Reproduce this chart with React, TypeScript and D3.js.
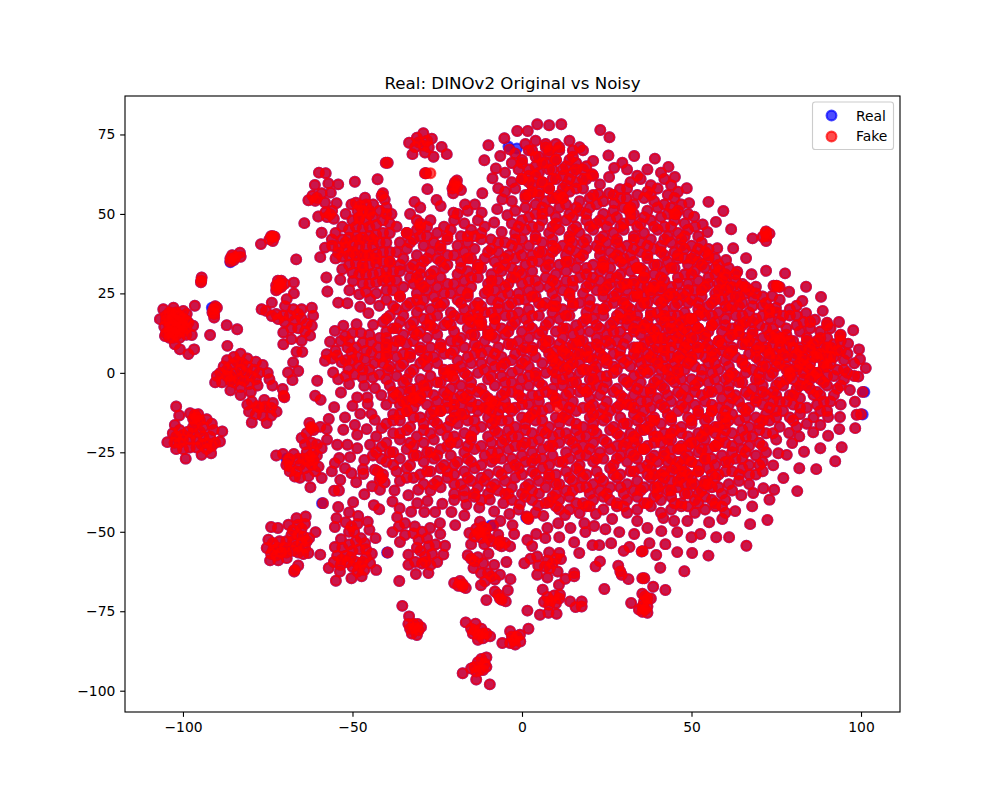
import React, { useRef, useEffect } from 'react';
import * as d3 from 'd3';

const title = 'Real: DINOv2 Original vs Noisy';
const xTicks = [-100, -50, 0, 50, 100];
const yTicks = [-100, -75, -50, -25, 0, 25, 50, 75];

// values, x,y pairs
const leftIslands = [
  -105.8,20,-102.8,20.5,-99.9,19.5,-96.5,21.1,-106.8,16.9,-105.3,11.6,-97,14.8,-97.4,11.9,-102.4,9,-100.9,7.4,-98.4,5.9,-96.7,7.4,-98.9,18.5,-98.4,15.8,
  -105,18,-104,19,-103,18.5,-102,19,-101,18,-105,16.5,-104,16,-103,17,-102,16.5,-101,16,-100,17,-105.5,14.5,-104,14.5,-103,15,-102,14,-101,14.5,-100,15,-105,12.5,-104,13,-103,12.5,-102,12,-101,13,-100,13,-103,11,-101,11,-99,12,-99,14,-99,16.5,-104,11,
  -94.5,30,-94.6,29,-94.7,28.5,-90.5,21,-90,20.5,-91,20,-91.3,19,-90.8,18.5,-90.8,17.4,-87.1,15,-84,13.7,-92,11.9,-86.9,8.5,
  -86,36,-85.5,37,-85,35.5,-86,35,-84.5,36.5,-83.2,37.8,-83,36.5,-74,43,-73.5,43,-73.5,41.5,-74.5,42,-73,42.8,-77,40.5,-66.6,35.7,-59.5,36.4,-64.2,47.1,
  -72,29,-72.5,27.5,-71.5,28,-71,27,-72,26.5,-71,29,-70,28,-72.5,26,-67.3,28.4,-67.3,25,
  -76.8,20,-75.5,19.5,-73.8,22.1,-69.9,21,-69.4,23.2,-67.4,20,-65,20,-62,20.5,-61.6,18,-62,14.8,-62.5,11.7,-65,10.1,-68,10.6,-70.4,9,-70.4,12.7,-66.5,6.6,-64.8,6.6,-67.5,3.3,-69,0.1,-66,0.6,-67.7,-2.3,
  -73.8,17.9,-71.9,16.9,-70,16,-68.5,18,-67,16.5,-65,17,-66,14,-68,14,-63.5,15.5,-64,13,-72.5,18.5,-70.5,18,-66,18.5,
  -88,2,-87,4,-85,5,-83,6,-81,4.5,-78.5,3.5,-76.5,2.5,-75,0,-74.5,-2,-78,-4,-80,-6,-83,-7,-86,-5.5,-88.5,-3,-90,-1,-90.5,-3,-89,0,
  -87,1,-85.5,2.5,-84,3.5,-82.5,3,-81,2,-79,1,-77.5,0,-86,-1,-84.5,0,-83,1,-81.5,0,-80,-1,-78.5,-2,-85,-3,-83.5,-2,-82,-2.5,-80.5,-3.5,-83,-4.5,-86,-2.5,-87,-1,
  -73.6,-4,-70.6,-5.1,-70.1,-7.7,-70.3,-7.2,
  -102,-10.6,-101.1,-13.4,-97.9,-12.7,-93,-14.6,-88.4,-18.4,-89.1,-21.6,-104.6,-21.8,-102.4,-16.4,-99.2,-27,-94.5,-25.8,-91.7,-25.3,
  -96.5,-13.2,-96,-14,-97,-14.5,-95.5,-13,-96.5,-15.5,-95,-15,
  -103,-19,-102,-20,-101,-18,-100,-19.5,-102.5,-22,-101,-22,-100,-21,-98.5,-18.5,-98,-21,-97,-19,-96,-21,-95,-18.5,-94,-20,-93,-22,-92,-20,-91,-18,-94.5,-22.5,-93,-24,-91.5,-23,-96,-23.5,-98,-23.5,-100,-24,-102,-24,-90.5,-22,-97,-17,-94,-17,-91.5,-16,
  -79.7,-15.6,-75.3,-15.8,-80.5,-12.2,-72.4,-12.2,-79.7,-9,-75.8,-10.6,-77.5,-11,-74,-11,-78.5,-13,-76.5,-13.5,-74,-13.5,-76,-8.5,-73.5,-9.5,-78,-10.5,-81,-10,
  -62.7,-15.8,-62,-17.4,-62.2,-17,-61.5,-18,-59.5,-17,-57.6,-17.7,-57,-14.5,-63.5,-19,-69,-27.9,-68.7,-27,-69.5,-29,-68.5,-29.5,-67.3,-25.5,
  -62.5,-26.3,-63.5,-25,-61.5,-25,-63,-28,-61.5,-27.5,-60.5,-26,-64.5,-27,-62,-29,-64,-30,-65.5,-29,-66,-27,-64,-22.5,-62,-22,-60.5,-22.5,-59.1,-23.7,-59.1,-33.1,-62.4,-36,-67,-32.6,-65.5,-33,-63,-32.5,-61,-31,-66.5,-31,-60,-29.5,
  -72.5,-26,-70.5,-25.5,-68.5,-31,-65,-20.5,
  -56.1,-31,-55.4,-37.1,-54,-37,-58.7,-41,-54.2,-42.2,-49.8,-40.7,-43.7,-41.6,-42.1,-42.9,-46.5,-38.2,-48.9,-34.4,-53.6,-33.7,-52.2,-30,-55.2,-28.4,-50.3,-31.6,-46.8,-31.8,-46.9,-30.3,-46.5,-27.4,-53.9,-26.8,-50.7,-26.5,-54.5,-22.6,-51.5,-22.6,-48.6,-23.7,-44.8,-22.6,-52.7,-17.9,-49.3,-16.4,-45.8,-17.7,-48.6,-19.5,-52.2,-14,-55.4,-10.8,-50,-10.4,-47.7,-12.9,-45.5,-9.8,-44.4,-12.9,-43.4,-14.8,-41.4,-17.4,-41.4,-23.2,-43.4,-30.5,-57.5,-21,-44.2,-35.7,-41.9,-36.8,-41.4,-33.1,-42,-33.5,-41,-32,-42.5,-31,-40.5,-34.5,-43,-20,-44,-26,-41.5,-27,-43,-25,
];

const lowerIslands = [
  -74,-48.5,-72,-48.8,-68.9,-47.8,-66.5,-45.7,-63.8,-45.2,-60.9,-50.1,-62.8,-52,-74.8,-52.5,-75.3,-55.1,-74.3,-59,-71.9,-59,-69.4,-58.3,-63,-56.7,-59.5,-57.2,-66,-60.6,-67.2,-62.5,-67,-62,
  -73.4,-55.7,-72,-55,-71,-56.5,-74,-57,-72.5,-57.5,-70,-55,-69.5,-56.5,-71.5,-53,-73.5,-53.5,-69.5,-53,
  -66,-47.8,-65,-49,-67.5,-49.5,-64,-47.5,-66,-51,-64.5,-51.5,-68,-51,
  -66.5,-54.6,-65,-53.5,-64,-55,-67.5,-53,-66,-56.5,-64.5,-57,-67.5,-56,-63.5,-53,
  -51,-43.9,-48.3,-45,-54.7,-45.7,-55.2,-48.5,-45.5,-46.8,-45,-49.4,-43.2,-52,-53.4,-52.3,-55.2,-54.8,-44.3,-56.9,-44.8,-59.9,-43,-62,-57,-61.4,-54.9,-65.4,-50.3,-64.6,-47.3,-64,-53.7,-62.5,
  -53.2,-58.8,-54.5,-57.5,-52,-57.5,-55.5,-59.5,-53.5,-60.5,-51.5,-59.5,-50.5,-58,-49,-59.5,-47.8,-60.9,-47,-59.5,-46.5,-62,-48.5,-62.5,-50,-61,-46,-58,
  -50.3,-48.3,-52,-47,-48.5,-47.5,-49.5,-50,-51,-50,-47.5,-52,-49,-53,-46.3,-53.6,-51,-54,-53,-55,-48,-55.5,-46,-55.5,-50,-56,
  -35.3,-73.3,-33.3,-76.6,-31.6,-80.3,-32,-79,-30.8,-79,-33,-80.5,-30.5,-81,-32.5,-82,-31,-82.5,-33.5,-79,-29.8,-80,
  -16.6,-78.5,-13.7,-78.9,-12.9,-82.4,-14,-81,-12,-80.5,-14.5,-82,-13,-84,-11.5,-83.5,-10.5,-82,-9.4,-82.9,-15,-80.5,-11.5,-82,
  1.9,-80.5,-3.5,-81.3,-0.6,-82.4,-5.8,-85,-2.3,-84.2,-3,-83,-1.5,-83,-3.5,-85,-2,-85.5,-0.5,-84.5,
  -17.5,-94.5,-13.5,-96.5,-9.5,-98,-14,-92.5,-12.5,-93.5,-11,-91.5,-13,-91,-12,-90,-11.5,-93.5,-10.5,-89.5,-13.5,-94,-10.5,-92.5,-15,-93,
  -20,-66.1,-18.3,-65.5,-17.5,-66.5,-18.8,-67,-16.6,-67.7,-17.5,-67.2,
  -24.2,-47.3,-36.3,-48.3,-38.2,-50.1,-34.5,-47.3,-31.6,-48.3,-27.1,-48.8,-24.1,-50.7,-34.5,-51,-36,-53.2,-22.7,-54.4,-23.2,-57.2,-33.5,-57.2,-33.5,-60.4,-31.3,-63.3,-27.6,-63,-25,-59.5,-36.2,-65.5,-39.6,-56.5,
  -28.6,-57.8,-30.5,-52.5,-27.5,-54.5,-31.5,-59.5,-29.5,-60,-27,-60.5,-30,-56,-26.5,-57,-28,-52,-32,-50.5,-29.5,-50,-25.5,-54,-31,-55,-28.5,-59.5,
  -12.9,-50.4,-10.9,-50.4,-12.4,-46.8,-15.5,-50.4,-15,-53.9,-11.1,-53.9,-7,-50.9,-6,-54.6,-7,-54,-5,-53.5,-6.5,-53,-3.5,-54.6,-9.9,-56.9,-16,-57.4,-14,-59.3,-15,-58.5,-13,-58,-14.3,-61.4,-11.4,-59.9,-8.2,-60.4,-4.6,-59.5,-12.1,-63,-9,-64,-10,-63,-8,-65,-6.5,-63.5,-3.4,-64.9,-10.9,-65.6,-12.1,-66.8,-4.2,-68.4,-7,-69.8,-6.5,-71,-8,-68.8,-6,-71.4,-4.8,-71.9,-10.5,-71.5,
  -13.5,-49,-11.5,-48.5,-14,-51.5,-12,-52,-10,-52,-12.5,-50,-10.5,-49,-9,-53,-8.5,-48,
  0.7,-59.9,4.5,-57.8,8,-56.5,11,-56.7,11.5,-58.6,4.5,-63.5,7.5,-64.4,10.5,-62.5,9,-60,7.5,-59,10,-58.5,4.8,-60.6,8.2,-61.5,6.8,-61,2.5,-58.5,
  1.6,-74.8,5.3,-76.1,10.2,-75.8,7.8,-75.5,8.5,-71.7,7.5,-70.5,9.5,-70,6.5,-72,8,-73,10,-72.5,11,-71,6.1,-68.2,11.2,-69.8,14.2,-71.9,17.6,-71.9,17.6,-73.5,15.8,-73.7,10.9,-66.7,12.8,-64.8,15.4,-63,15.4,-64,
  21.7,-60.9,23,-59.3,28.4,-60.7,29.4,-63.5,31.4,-64.9,29,-62.5,35.5,-64.6,24.3,-68,32.2,-72.4,36.3,-70.3,35.5,-69.5,37,-71,36,-72,36.3,-74.5,35.5,-73.5,37,-73.5,35.5,-75.2,37,-75.5,38.7,-67.3,42.3,-68.3,38,-71,34.5,-74.5,
  40.8,-61.3,47.9,-62.4,36.1,-64.6,
];

const rimPoints = [
  4.5,78.2,8,77.9,11.6,78.2,-1.4,76.1,1.7,76.1,-5.2,73.8,-9.9,71.6,-3.7,70.3,-6.4,68.2,-11.1,66.9,-7.7,64.3,-8.7,61.2,-7,58.1,-11.7,56.5,-5.8,54.6,-7.3,51.5,-8.2,47.3,-4.3,49.6,-6,44.3,-9.2,42,23.1,76.4,25.8,74.1,25.5,68.4,21,66.7,20.7,62.5,33.1,68.2,29.6,66.1,27.2,64.5,25.7,61.6,23,59.3,28.9,57.8,30.9,54.9,25.7,56.5,22.5,56.2,27.2,53.4,31.4,51.3,
  -31.7,53.8,-30,52,-25.2,54.4,-24,52.5,-27.9,57.8,-19.8,59.9,-20,59,-19.2,60.5,-20.5,58,-19,58.5,-18,57.5,-20.3,56.5,-28.6,62.8,-28.3,62.8,-16.8,53,-13.9,53,-20.2,50.4,-11.9,50.4,-31,48,-33,50,
  -29.1,75.4,-31,74,-33.3,72.4,-26.6,73.7,-23.7,71.1,-22.2,68.8,-26.1,68,-28.6,69.3,-32.3,68.8,-30.5,72.5,-29,71.5,-28,73,-27.5,71,-31.5,71,-39.6,66.1,
  -42.6,60.9,-40.2,66.1,
  39.2,67.4,43.2,64.8,45.1,61.6,48.6,58.1,49.3,53.4,55,53.8,59.4,50.9,45.4,49.9,50.8,49.1,57.2,47.5,53.3,46.7,61.7,45.2,54.7,44.3,68,42.3,72.2,43,72,44.5,73,43.8,72,41.5,71,42.8,57.6,39.2,62.3,39.2,66.1,36.1,60.2,35.5,72,32.1,77.6,31.3,63.5,31.8,67.7,31,58.2,32.1,75.1,27.4,74.2,27.4,76,27,83.8,27.1,69,27.1,64.6,27.2,78.8,25.5,88.2,23.9,73.8,24.2,68.2,23.4,82.7,22.6,81,21.1,88.7,19.5,74.9,20.5,70.9,21.1,83.8,18.8,93.5,16,97.7,13.4,90,15.8,86.4,16.7,93.8,11.6,96.2,9.2,99.4,7.4,99.7,4.3,101.4,1.5,99.2,-1.2,96.7,-5.4,100.5,-6,98.2,-9.1,
  98.7,-13.2,100,-13,93.8,-13.9,90.3,-13.9,93.6,-17.7,98.3,-17.4,90.3,-19.8,85.9,-18.7,88,-16.4,81.8,-20,78.8,-18.9,94.3,-23.4,88,-23.7,83.2,-24.8,92.4,-27.8,86.8,-30.3,81.8,-30,79.7,-22.1,78.1,-25.8,75.6,-25.3,74.1,-29.1,77.1,-33.1,81.2,-37.2,74.4,-36.8,73,-39.9,71.2,-36.3,68.2,-37.8,67.9,-42,64.7,-38.5,62.9,-43.5,72.4,-46.3,67.3,-47.6,59.1,-46,61.1,-51.7,57.3,-51.7,66.2,-54.4,55,-57.5,52.6,-50.7,50,-51.7,50.2,-56.7,45.8,-56.4,39.6,-57.3,35.6,-56.1,42.3,-53.9,37.6,-53.6,45.8,-50.1,41.1,-49.8,37,-48.8,55.2,-47,48.8,-46.6,44.9,-46.6,41.7,-45.7,
  -33.5,-38.5,-37.6,-37,-30.6,-36.8,-38.2,-40.5,-30.9,-41,-27.9,-40.3,-23.5,-41.2,-36.1,-42.6,-32.7,-43.7,-28.8,-43.8,-25.6,-43.8,-20.8,-43.8,-17,-44.9,-16.4,-41.5,-12.6,-42.4,-9.5,-39.9,-5.5,-41,-8.2,-43.6,-0.6,-41.3,4.8,-41.7,8,-40.7,-3.7,-44.4,-6.4,-46.6,1.6,-45.7,1.4,-45.2,1.9,-46,6.3,-45,11,-43,12.7,-44.7,17,-44.1,21.8,-44.4,26.6,-46,34,-46.6,-36.8,-45.4,-19.7,-47.9,-2.8,-47.9,10.7,-47.3,14.3,-48.8,18.4,-47.3,21.3,-48.2,24.6,-49.2,28.7,-50.1,33.1,-50.7,7.5,-48.8,-2.3,-50.7,4.2,-50.7,11,-51.7,6.9,-52,1.6,-52.6,18.7,-50.1,15.4,-53.3,3,-54.5,20.8,-54.2,22.8,-54.2,26.3,-53.6,31.7,-54.8,30,-56,16.9,-56.7,35.3,-56.2,
  -59.9,63,-57.9,62.8,-61.1,59.1,-57.1,59.6,-54.2,59.3,-56.4,56.7,-59.1,56.5,-49.3,60.1,-61.8,55.7,-63,54.3,-61,54.1,-60.5,55,-58.1,53.6,-54.7,53.4,-60.1,49.2,-56.6,49.9,-57.5,49,-55.5,48.5,-56,51,-58,50.5,-59.1,44.1,-58.1,39.4,-56.1,42,-54.2,37.8,-53,32.6,-57.7,30,-53.6,29.3,-49.8,28.9,-57.4,25.6,-50.9,26,-48,24.7,-44.8,23.2,-54.2,22.1,-51.5,21.9,-47.7,20.8,-42.1,21.1,-45.3,18.8,
  -52.7,14.8,-48.8,15.3,-43.9,15.1,-55.2,13.2,-56.6,9.8,-57.6,5.9,-58.1,3.8,-55.7,0.1,-54.2,-2,-51,-3.5,-46.5,-4.1,-43.4,-4.8,-53.4,-6.2,-48.6,-7.7,-45.6,-7.7,-41.5,-7,-60.4,-2.5,-61,-7.2,-59.4,-8.5,
];

const upperLeftCluster = [
  -50.3,53,-46.3,55.1,-43.9,53,-41.4,55.7,-41,56.5,-40.5,54.5,-47.8,52.5,-48.5,51,-47,51,-46,53,-49,53.5,-45,51,-52,50,-50,48,-48,48.5,-46,48,-44,49,-42,51,-40,52,-38.5,50,
  -53,46,-51,45,-49,46,-47,45.5,-45,46,-43,46.5,-41,48,-39,47,-37,46,-55,44,-53,42,-51,42.5,-49,43,-47,42.5,-45,43,-43,43.5,-41,44,-39,44,
  -56,40,-54,39.5,-52,39.5,-50,40,-48,40,-46,39.5,-44,40,-42,41,-40,41,-55,36,-53,36.5,-51,37,-49,37,-47,37,-45,37,-43,37.5,-41,38,-39,38,
  -51,34,-49,34.5,-47,34,-45,34,-43,34.5,-41,35,-39,35,-50,31.5,-48,31,-46,31,-44,31,-42,31.5,-40,32,-47,28,-45,28,-43,28.5,-41,29,-39,29,-46,25.5,-43,25,-40,26,
];

const lowerLeftCluster = [
  -52.2,11.6,-53.5,10,-51,10,-50,12.5,-50.3,6.4,-49,8,-51.5,8,-46.3,4.3,-53.2,3.3,-54.5,5.5,-48.3,2.2,-47,1,-44.4,6.4,-55,7,-56,4.5,-51.2,1.2,-52,4,-50,4,-48.5,5,-46,7,-47,9.5,-44.5,9.5,-42.5,8,-45,12,-42,11,-40,9,-42,5,-40,6,-43.5,3,-45,1,-41,3,-39.5,1,-42,-0.5,-44,-1.5,-47,-1.5,-49.5,-0.5,-52,-1,-40,13,-41,16,-39,18,-47.5,12.5,
];

// the big central mass, top to bottom
const centralUpper = [
  1,72,4,73,7,71,10,72,14,73,17,71,
  -2,69,2,70,5,68,8,69,11,70,15,68,18,70,
  -3,66,0,67,4,65,7,66,10,67,13,65,16,66,19,65,
  -5,63,-1,64,2,62,5,63,9,64,12,62,15,63,18,64,21,62,31,64,34,62,37,64,41,63,
  -3,60,0,61,3,59,6,60,9,61,13,59,16,60,19,61,32,60,35,61,38,59,42,61,44,59,
  -5,57,-2,58,1,56,5,57,8,58,11,56,14,57,18,58,21,56,31,58,34,56,37,57,40,58,43,56,46,57,
  -3,54,1,55,4,53,7,54,10,55,13,53,17,54,20,55,24,54,29,55,33,53,36,55,39,54,42,53,45,55,47,53,
  -19,50,-16,51,-2,51,1,52,4,50,8,51,11,52,14,50,17,51,20,52,24,50,27,51,30,52,33,50,37,51,40,52,43,50,46,51,
  -30,47,-27,48,-23,46,-20,48,-17,47,-13,48,-11,46,-3,47,0,48,3,46,6,48,10,47,13,48,16,46,19,48,22,47,26,48,29,46,32,48,35,47,38,48,42,46,45,48,48,47,51,46,
  -34,44,-31,45,-28,43,-25,44,-21,45,-18,43,-15,45,-12,44,-2,44,1,45,4,43,8,44,11,45,14,43,17,44,21,45,24,43,27,44,30,45,33,43,36,44,40,45,43,43,46,44,49,45,52,43,
  -36,41,-32,42,-29,40,-26,41,-22,42,-19,40,-16,41,-12,42,-9,39,-5,41,-3,40,0,42,2,40,6,41,9,42,12,40,15,41,19,42,22,40,25,41,28,42,31,40,35,41,38,42,41,40,44,41,47,42,50,40,53,41,55,39,
  -37,38,-34,39,-31,37,-27,38,-24,39,-20,37,-17,38,-14,39,-11,36,-7,38,-4,37,-1,39,3,37,6,38,10,39,13,37,16,38,19,39,23,37,26,38,29,39,32,37,35,38,39,39,42,37,45,38,48,39,51,37,54,38,57,36,
  -39,35,-35,36,-32,34,-29,35,-25,36,-22,34,-18,35,-15,36,-12,33,-8,35,-5,34,-2,36,1,34,5,35,8,36,11,34,14,35,17,36,21,34,24,35,27,36,30,34,33,35,37,36,40,34,43,35,46,36,49,34,52,35,55,36,58,34,61,33,
  -36,32,-33,33,-30,31,-26,32,-23,33,-19,31,-16,32,-13,33,-9,31,-6,32,-3,33,0,31,3,32,7,33,10,31,13,32,16,33,19,31,23,32,26,33,29,31,32,32,35,33,39,31,42,32,45,33,48,31,51,32,54,33,57,31,60,30,63,29,
  -40,30,-37,29,-33,30,-30,28,-27,29,-24,30,-20,28,-17,29,-13,30,-10,28,-7,29,-3,30,0,28,4,29,7,30,10,28,13,29,17,30,20,28,23,29,26,30,30,28,33,29,36,30,39,28,42,29,46,30,49,28,52,29,55,30,58,28,61,27,65,28,67,26,
  -38,26,-35,27,-31,25,-28,26,-25,27,-21,25,-18,26,-15,27,-11,25,-8,26,-5,27,-1,25,2,26,5,27,9,25,12,26,15,27,18,25,22,26,25,27,28,25,31,26,35,27,38,25,41,26,44,27,47,25,51,26,54,27,57,25,60,26,63,24,66,25,71,24,
  -40,23,-36,24,-33,22,-29,23,-26,24,-23,22,-19,23,-16,24,-13,22,-9,23,-6,24,-3,22,1,23,4,24,7,22,10,23,14,24,17,22,20,23,24,24,27,22,30,23,33,24,37,22,40,23,43,24,46,22,50,23,53,24,56,22,59,23,62,21,65,22,72,22,76,23,
];

const centralMiddle = [
  -37,20,-34,21,-31,19,-27,20,-24,21,-21,19,-17,20,-14,21,-11,19,-7,20,-4,21,-1,19,2,20,6,21,9,19,12,20,15,21,19,19,22,20,25,21,29,19,32,20,35,21,38,19,42,20,45,21,48,19,52,20,55,21,58,19,61,20,64,21,67,19,71,18,75,19,79,20,81,18,
  -40,17,-35,18,-32,16,-29,17,-25,18,-22,16,-18,17,-15,18,-12,16,-8,17,-5,18,-2,16,1,17,5,18,8,16,11,17,14,18,18,16,21,17,24,18,27,16,31,17,34,18,37,16,41,17,44,18,47,16,50,17,54,18,57,16,60,17,63,18,66,16,70,15,73,17,76,16,79,18,83,16,
  -37,14,-33,15,-30,13,-26,14,-23,15,-20,13,-16,14,-13,15,-10,13,-6,14,-3,15,0,13,3,14,7,15,10,13,13,14,16,15,20,13,23,14,26,15,29,13,33,14,36,15,39,13,43,14,46,15,49,13,52,14,56,15,59,13,62,14,65,15,68,13,72,14,75,12,78,14,82,13,85,14,88,13,91,14,94,12,
  -40,11,-35,12,-32,10,-28,11,-25,12,-21,10,-18,11,-15,12,-11,10,-8,11,-5,12,-1,10,2,11,5,12,8,10,12,11,15,12,18,10,22,11,25,12,28,10,31,11,35,12,38,10,41,11,45,12,48,10,51,11,54,12,58,10,61,11,64,12,67,10,71,11,74,9,77,11,80,10,84,11,87,10,90,11,92,9,
  -38,8,-34,9,-30,7,-27,8,-24,9,-20,7,-17,8,-14,9,-10,7,-7,8,-4,9,0,7,3,8,6,9,10,7,13,8,16,9,19,7,23,8,26,9,29,7,33,8,36,9,39,7,42,8,46,9,49,7,52,8,55,9,59,7,62,8,65,9,69,7,72,8,75,6,78,8,82,7,85,8,88,6,91,8,94,7,96,6,
  -37,5,-33,6,-29,4,-26,5,-23,6,-19,4,-16,5,-12,6,-9,4,-6,5,-2,6,1,4,4,5,8,6,11,4,14,5,17,6,21,4,24,5,27,6,31,4,34,5,37,6,40,4,44,5,47,6,50,4,54,5,57,6,60,4,63,5,67,6,70,4,73,5,76,3,80,5,83,4,86,5,89,3,92,5,95,4,98,3,
  -39,2,-35,3,-32,1,-28,2,-25,3,-21,1,-18,2,-15,3,-11,1,-8,2,-5,3,-1,1,2,2,6,3,9,1,12,2,15,3,19,1,22,2,25,3,28,1,32,2,35,3,38,1,42,2,45,3,48,1,51,2,55,3,58,1,61,2,65,3,68,1,71,2,74,0,78,2,81,1,84,2,87,0,90,2,93,1,96,0,98,-1,
  -37,-1,-33,0,-30,-2,-27,-1,-23,0,-20,-2,-16,-1,-13,0,-10,-2,-6,-1,-3,0,0,-2,4,-1,7,0,10,-2,14,-1,17,0,20,-2,23,-1,27,0,30,-2,33,-1,37,0,40,-2,43,-1,46,0,50,-2,53,-1,56,0,60,-2,63,-1,66,0,69,-2,73,-1,76,-3,79,-1,83,-2,86,-1,89,-3,92,-1,95,-2,
  -39,-4,-35,-3,-31,-5,-28,-4,-25,-3,-21,-5,-18,-4,-15,-3,-12,-5,-8,-4,-5,-3,-1,-5,2,-4,5,-3,9,-5,12,-4,15,-3,18,-5,22,-4,25,-3,28,-5,32,-4,35,-3,38,-5,41,-4,45,-3,48,-5,51,-4,55,-3,58,-5,61,-4,64,-3,68,-5,71,-4,74,-6,77,-4,81,-5,84,-4,87,-6,90,-4,93,-5,
  -37,-7,-33,-6,-30,-8,-26,-7,-23,-6,-20,-8,-16,-7,-13,-6,-10,-8,-6,-7,-3,-6,0,-8,3,-7,7,-6,10,-8,13,-7,17,-6,20,-8,23,-7,27,-6,30,-8,33,-7,36,-6,40,-8,43,-7,46,-6,49,-8,53,-7,56,-6,59,-8,63,-7,66,-6,69,-8,72,-7,76,-9,79,-7,82,-8,86,-7,89,-9,92,-7,
  -40,-10,-35,-9,-32,-11,-28,-10,-25,-9,-22,-11,-18,-10,-15,-9,-11,-11,-8,-10,-5,-9,-2,-11,2,-10,5,-9,8,-11,12,-10,15,-9,18,-11,21,-10,25,-9,28,-11,31,-10,35,-9,38,-11,41,-10,44,-9,48,-11,51,-10,54,-9,58,-11,61,-10,64,-9,67,-11,71,-10,74,-9,77,-12,80,-10,84,-11,87,-10,90,-12,94,-10,
  -38,-13,-34,-12,-30,-14,-27,-13,-24,-12,-20,-14,-17,-13,-13,-12,-10,-14,-7,-13,-3,-12,0,-14,3,-13,6,-12,10,-14,13,-13,16,-12,20,-14,23,-13,26,-12,29,-14,33,-13,36,-12,39,-14,43,-13,46,-12,49,-14,52,-13,56,-12,59,-14,62,-13,66,-12,69,-14,72,-13,75,-12,79,-14,82,-13,86,-14,
  -40,-16,-36,-15,-33,-17,-29,-16,-26,-15,-22,-17,-19,-16,-16,-15,-12,-17,-9,-16,-6,-15,-2,-17,1,-16,4,-15,8,-17,11,-16,14,-15,18,-17,21,-16,24,-15,27,-17,31,-16,34,-15,37,-17,41,-16,44,-15,47,-17,50,-16,54,-15,57,-17,60,-16,64,-15,67,-17,70,-16,73,-15,76,-17,81,-17,
];

const centralLower = [
  -38,-19,-34,-18,-31,-20,-27,-19,-24,-18,-20,-20,-17,-19,-14,-18,-10,-20,-7,-19,-4,-18,-1,-20,3,-19,6,-18,9,-20,13,-19,16,-18,19,-20,22,-19,26,-18,29,-20,32,-19,36,-18,39,-20,42,-19,45,-18,49,-20,52,-19,55,-18,59,-20,62,-19,65,-18,68,-20,72,-19,75,-21,
  -40,-22,-36,-21,-32,-23,-29,-22,-26,-21,-22,-23,-19,-22,-15,-21,-12,-23,-9,-22,-5,-21,-2,-23,1,-22,5,-21,8,-23,11,-22,14,-21,18,-23,21,-22,24,-21,28,-23,31,-22,34,-21,37,-23,41,-22,44,-21,47,-23,51,-22,54,-21,57,-23,60,-22,64,-21,67,-23,70,-22,
  -38,-25,-34,-24,-31,-26,-27,-25,-24,-24,-21,-26,-17,-25,-14,-24,-11,-26,-7,-25,-4,-24,0,-26,3,-25,6,-24,9,-26,13,-25,16,-24,19,-26,23,-25,26,-24,29,-26,32,-25,36,-24,39,-26,42,-25,46,-24,49,-26,52,-25,55,-24,59,-26,62,-25,65,-24,69,-26,72,-25,
  -40,-28,-36,-27,-33,-29,-29,-28,-26,-27,-23,-29,-19,-28,-16,-27,-12,-29,-9,-28,-6,-27,-2,-29,1,-28,4,-27,8,-29,11,-28,14,-27,17,-29,21,-28,24,-27,27,-29,31,-28,34,-27,37,-29,40,-28,44,-27,47,-29,50,-28,54,-27,57,-29,60,-28,63,-27,67,-29,71,-28,
  -37,-31,-34,-30,-30,-32,-27,-31,-24,-30,-20,-32,-17,-31,-14,-30,-10,-32,-7,-31,-4,-30,0,-32,3,-31,6,-30,10,-32,13,-31,16,-30,19,-32,22,-31,26,-30,29,-32,32,-31,35,-30,39,-32,42,-31,45,-30,49,-32,52,-31,55,-30,58,-32,62,-31,65,-30,69,-32,71,-31,
  -36,-34,-32,-33,-29,-35,-25,-34,-22,-33,-18,-35,-15,-34,-12,-33,-8,-35,-5,-34,-2,-33,2,-35,5,-34,8,-33,11,-35,15,-34,18,-33,21,-35,24,-34,28,-33,31,-35,34,-34,38,-33,41,-35,44,-34,47,-33,51,-35,54,-34,57,-33,61,-35,64,-34,67,-35,
  -27,-37,-24,-36,-20,-38,-17,-37,-13,-36,-10,-38,-7,-37,-3,-36,0,-38,3,-37,7,-36,10,-38,13,-37,17,-36,20,-38,23,-37,26,-36,30,-38,33,-37,36,-36,40,-38,43,-37,46,-36,49,-38,53,-37,56,-36,59,-38,
  -20,-40,-17,-39,-12,-40,-3,-40,1,-39,7,-41,11,-40,14,-39,18,-41,21,-40,24,-39,28,-41,31,-40,34,-39,37,-41,41,-40,44,-39,47,-41,51,-40,54,-39,57,-41,60,-40,
  -1,-43,4,-44,10,-42,14,-43,19,-42,24,-43,28,-42,31,-44,34,-43,38,-42,41,-44,44,-43,47,-42,51,-44,54,-43,57,-42,60,-44,
];

// more points between the rows above, where the mass closes up
const centralFillUpper = [
  2,56,6,52,12,55,16,52,22,53,27,56,32,52,38,56,44,52,
  2,49,6,50,10,49,15,49,19,50,23,48,28,49,32,50,36,49,41,49,45,50,49,50,
  -28,46,-22,43,-16,43,-1,46,5,46,9,46,15,45,20,46,25,46,30,47,34,46,39,46,44,46,48,43,
  -30,43,-24,40,-14,43,-7,41,-2,42,4,42,9,40,14,42,18,41,23,42,28,41,33,42,37,40,42,42,47,40,52,39,
  -33,41,-28,36,-22,37,-16,36,-10,38,-5,36,0,37,5,38,9,38,14,39,18,37,23,39,28,37,33,39,37,37,41,38,46,37,50,36,55,37,
  -36,34,-30,33,-24,35,-18,33,-13,34,-7,33,-1,32,3,35,8,34,13,35,19,33,24,33,29,35,34,33,39,34,44,33,48,36,53,34,57,33,60,31,
  -38,32,-32,28,-27,31,-22,28,-15,30,-9,29,-4,28,2,29,9,29,15,29,21,30,26,28,31,28,36,32,41,30,46,28,50,31,55,28,59,29,63,31,
  -36,24,-29,27,-23,25,-16,25,-10,26,-4,25,3,24,8,27,14,25,19,27,24,26,29,27,34,24,39,27,44,25,49,26,53,26,58,26,62,27,66,27,69,25,
  -38,21,-31,23,-25,22,-18,22,-12,21,-7,22,-1,23,5,22,10,21,15,22,20,21,27,24,31,21,36,24,42,23,48,24,52,22,57,23,61,24,64,24,68,21,73,20,
  -36,16,-30,21,-27,17,-20,18,-13,17,-9,19,-3,18,3,18,9,21,13,18,19,17,24,20,29,17,34,16,40,19,44,16,49,17,52,18,56,18,60,21,65,18,69,17,73,19,77,18,
  -38,14,-32,13,-28,15,-21,15,-15,16,-8,15,-4,13,2,15,6,13,12,14,17,13,22,15,27,13,31,15,38,14,42,16,47,13,51,15,55,13,60,15,64,15,68,16,74,14,78,12,81,15,85,16,90,15,
  -37,10,-31,12,-24,8,-19,10,-13,8,-9,12,-3,9,1,8,7,10,11,9,17,10,20,8,25,10,30,9,35,8,40,11,44,10,49,9,54,8,59,9,62,12,66,11,69,9,74,11,79,10,82,8,86,9,90,8,94,10,
];

const centralFillLower = [
  -40,5,-35,6,-28,5,-21,6,-14,6,-8,6,-3,4,3,7,9,5,13,6,19,5,23,6,29,5,33,6,38,5,42,7,47,4,52,6,56,7,61,6,65,4,69,5,72,7,77,6,81,6,87,6,90,5,93,7,
  -36,2,-30,3,-23,1,-17,0,-12,3,-6,2,0,3,4,0,10,3,13,1,17,3,21,1,27,2,30,3,36,1,40,3,43,1,49,3,53,1,57,3,62,0,66,2,70,0,75,2,79,0,82,3,85,1,91,3,95,1,
  -40,-2,-34,-2,-29,-4,-22,-1,-15,-5,-9,-1,-3,-3,2,-1,6,-4,12,-2,16,-3,21,-2,25,-1,31,-3,35,0,39,-3,44,-2,47,-2,52,-3,57,-2,61,-1,65,-3,70,-2,75,-4,78,-2,82,-4,88,-2,94,-4,
  -38,-6,-32,-8,-28,-6,-22,-9,-18,-7,-11,-7,-5,-6,-1,-7,5,-7,9,-7,14,-6,19,-6,24,-5,29,-7,34,-5,38,-6,42,-5,47,-7,51,-6,55,-6,61,-6,67,-7,71,-6,75,-7,80,-7,85,-5,88,-7,91,-9,
  -36,-13,-31,-9,-26,-12,-20,-12,-13,-10,-9,-12,-4,-11,0,-10,4,-12,10,-9,14,-11,20,-11,24,-11,29,-10,33,-11,37,-9,42,-11,47,-10,52,-12,56,-10,60,-12,65,-11,69,-9,73,-11,78,-9,82,-11,88,-12,
  -38,-15,-32,-14,-25,-16,-21,-15,-14,-15,-8,-15,-4,-15,2,-14,6,-15,12,-14,16,-16,21,-13,25,-14,30,-16,35,-14,39,-15,44,-14,50,-15,55,-14,61,-15,66,-14,71,-15,75,-14,80,-15,84,-16,
  -36,-19,-29,-18,-22,-20,-15,-20,-8,-18,-3,-20,1,-18,7,-19,11,-19,17,-20,21,-18,28,-19,33,-20,38,-18,43,-21,47,-19,53,-20,57,-19,60,-18,66,-20,70,-18,74,-19,
  -39,-25,-33,-22,-28,-25,-21,-22,-16,-23,-9,-25,-6,-22,0,-23,3,-22,9,-23,15,-22,20,-24,25,-22,30,-23,35,-24,39,-22,44,-24,49,-23,53,-24,58,-22,62,-23,66,-25,71,-23,
  -38,-29,-32,-26,-25,-26,-20,-29,-15,-28,-8,-27,-3,-27,3,-28,6,-27,12,-28,17,-26,22,-27,28,-27,33,-26,38,-27,43,-28,48,-27,52,-29,56,-27,61,-28,65,-27,70,-29,
  -34,-33,-28,-31,-22,-31,-16,-33,-11,-34,-6,-32,-1,-30,4,-32,8,-32,14,-33,17,-31,23,-33,27,-32,33,-31,37,-32,41,-32,47,-31,50,-33,56,-32,60,-31,64,-32,67,-32,
  -26,-35,-20,-35,-14,-38,-9,-36,-4,-38,1,-36,5,-38,10,-35,15,-37,19,-36,25,-38,29,-36,35,-37,39,-36,44,-37,48,-35,52,-38,55,-35,58,-36,62,-37,
  -14,-39,-5,-38,3,-40,9,-39,16,-41,20,-42,26,-40,30,-42,36,-41,39,-39,45,-41,49,-42,52,-41,56,-40,59,-42,
];

// spots where many points pile up and the picture goes plain red
const hotSpots = [
  0,66,2,64,4,68,4,62,6,66,6,60,8,70,8,64,8,58,10,67,10,61,12,64,12,58,14,67,14,61,16,64,2,60,5,56,9,55,12,55,16,58,18,61,7,72,11,71,3,70,15,70,0,61,3,57,
  70,8,72,2,73,6,75,4,76,10,78,1,78,5,80,8,81,2,83,5,83,0,85,7,85,3,87,0,87,5,89,8,89,2,91,5,84,10,88,11,80,-2,85,-2,90,-1,76,8,73,12,76,11,68,12,66,9,64,13,62,7,
  36,14,38,11,40,8,40,14,42,11,42,5,44,14,44,8,46,11,46,5,48,14,48,8,50,11,50,5,52,14,52,8,54,11,38,18,42,18,46,18,50,17,41,22,36,22,34,25,30,22,28,18,32,18,33,13,34,8,37,4,33,28,37,27,41,27,45,24,49,22,53,19,56,15,58,10,56,5,46,1,41,1,
  9,4,12,7,14,2,16,6,18,1,20,5,10,0,15,9,22,9,25,4,7,8,
  42,-26,44,-31,46,-28,46,-34,48,-31,50,-28,50,-35,52,-31,54,-27,47,-24,42,-33,38,-30,35,-18,38,-15,33,-22,36,-24,56,-12,58,-17,54,-18,60,-14,40,-20,44,-19,50,-22,57,-23,40,-36,54,-35,48,-38,
  -36,-6,-34,-9,-33,-5,-32,-8,-36,-10,-30,-7,-38,-8,-34,-12,-20,-10,-18,-13,-17,-8,-15,-11,-22,-7,-24,-12,-12,15,-10,12,-14,12,-16,17,-8,17,-13,19,-8,-9,-6,-11,-10,-11,
  -48,42,-46,37,-44,42,-50,38,-43,36,-47,33,-52,41,-48,49,-45,50,-30,46,-34,44,-40,50,-36,10,-33,5,-30,8,-40,8,
  32,-10,20,-5,24,34,28,30,30,36,34,33,36,30,38,26,-2,30,62,-8,-20,1,-24,-3,-27,15,-31,30,
];

const fakeOnly = [-9,-9,-20.5,-1,10.5,-10.7,-27,62.8,75.5,27.2,71.8,44.2];
const realOnly = [-4,71.2,-1.5,70.6,101,-6,100.5,-13.1,-69.5,-27,-59,-41,1.2,-45.5,-9.2,-48,-39.8,-56.5,-86,34.8,-91.5,20.5];

function toPairs(flat: number[]): [number, number][] {
  const out: [number, number][] = [];
  for (let i = 0; i + 1 < flat.length; i += 2) out.push([flat[i], flat[i + 1]]);
  return out;
}

const shared: [number, number][] = [
  ...toPairs(leftIslands),
  ...toPairs(lowerIslands),
  ...toPairs(rimPoints),
  ...toPairs(upperLeftCluster),
  ...toPairs(lowerLeftCluster),
  ...toPairs(centralUpper),
  ...toPairs(centralMiddle),
  ...toPairs(centralLower),
  ...toPairs(centralFillUpper),
  ...toPairs(centralFillLower),
  ...toPairs(hotSpots),
];
const realPoints = [...shared, ...toPairs(realOnly)];
const fakePoints = [...shared, ...toPairs(fakeOnly)];

const App = () => {
  const ref = useRef<SVGSVGElement>(null);

  useEffect(() => {
    const svg = d3.select(ref.current);
    svg.selectAll('*').remove();

    const margin = { top: 96, right: 100, bottom: 88, left: 125 };
    const width = 1000, height = 800;

    const x = d3.scaleLinear().domain([-117.1, 111.5]).range([margin.left, width - margin.right]);
    const y = d3.scaleLinear().domain([-106.7, 87.1]).range([height - margin.bottom, margin.top]);

    const drawPoints = (pts: [number, number][], color: string) => {
      svg.append('g').selectAll('circle').data(pts).enter().append('circle')
        .attr('cx', d => x(d[0]))
        .attr('cy', d => y(d[1]))
        .attr('r', 4.91)
        .attr('fill', color)
        .attr('fill-opacity', 0.7)
        .attr('stroke', color)
        .attr('stroke-opacity', 0.7)
        .attr('stroke-width', 2.08);
    };
    drawPoints(realPoints, 'blue');
    drawPoints(fakePoints, 'red');

    const font = '"DejaVu Sans", sans-serif';
    const xAxis = svg.append('g')
      .attr('transform', `translate(0,${height - margin.bottom})`)
      .call(d3.axisBottom(x).tickValues(xTicks).tickSize(4.86).tickPadding(4.86).tickFormat(d => String(d).replace('-', '\u2212')));
    const yAxis = svg.append('g')
      .attr('transform', `translate(${margin.left},0)`)
      .call(d3.axisLeft(y).tickValues(yTicks).tickSize(4.86).tickPadding(4.86).tickFormat(d => String(d).replace('-', '\u2212')));
    [xAxis, yAxis].forEach(a => {
      a.selectAll('text').attr('font-family', font).attr('font-size', 13.89).attr('fill', 'black');
      a.selectAll('.tick line').attr('stroke', 'black').attr('stroke-width', 1.11);
      a.select('.domain').remove();
    });

    svg.append('rect')
      .attr('x', margin.left).attr('y', margin.top)
      .attr('width', width - margin.left - margin.right)
      .attr('height', height - margin.top - margin.bottom)
      .attr('fill', 'none').attr('stroke', 'black').attr('stroke-width', 1.11);

    svg.append('text')
      .attr('x', (margin.left + width - margin.right) / 2).attr('y', 88.5)
      .attr('text-anchor', 'middle')
      .attr('font-family', font).attr('font-size', 16.67)
      .text(title);

    const legend = svg.append('g');
    legend.append('rect')
      .attr('x', 812.5).attr('y', 102).attr('width', 81).attr('height', 47.5).attr('rx', 2.8)
      .attr('fill', 'white').attr('fill-opacity', 0.8)
      .attr('stroke', '#ccc').attr('stroke-width', 1.11);
    [['Real', 'blue', 115.5, 120.5], ['Fake', 'red', 136.5, 140.5]].forEach(([label, color, cy, ty]) => {
      legend.append('circle')
        .attr('cx', 831.5).attr('cy', cy as number).attr('r', 4.91)
        .attr('fill', color as string).attr('fill-opacity', 0.7)
        .attr('stroke', color as string).attr('stroke-opacity', 0.7).attr('stroke-width', 2.08);
      legend.append('text')
        .attr('x', 856).attr('y', ty as number)
        .attr('font-family', font).attr('font-size', 13.89)
        .text(label as string);
    });
  }, []);

  return <svg ref={ref} width={1000} height={800} style={{ position: 'absolute', left: 0, top: 0, background: 'white' }} />;
};

export default App;
